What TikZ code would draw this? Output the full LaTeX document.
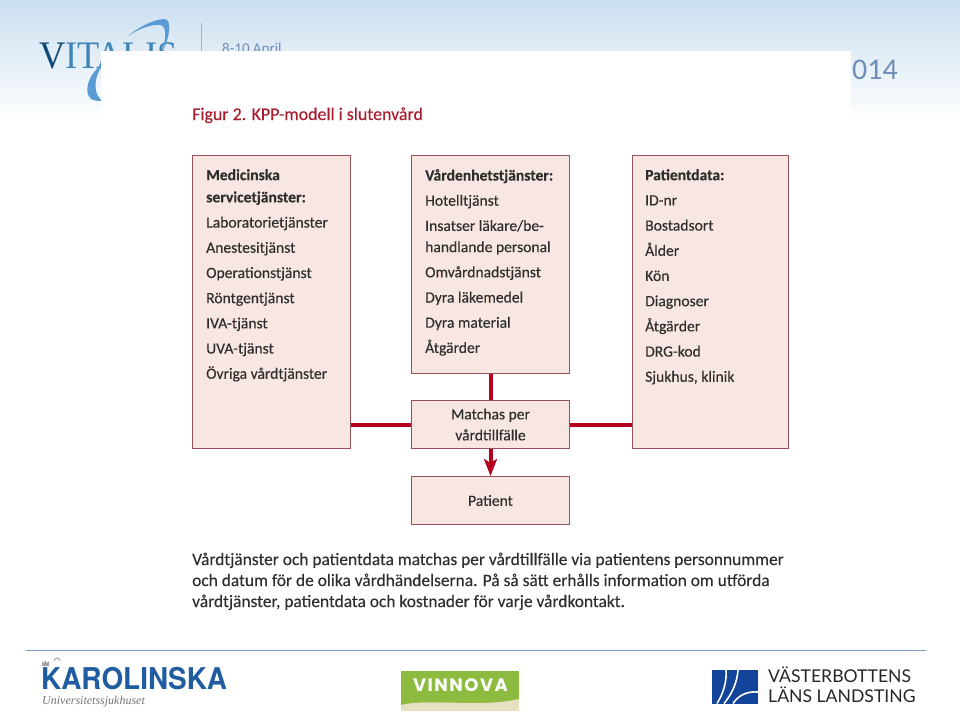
\documentclass[tikz,border=0pt]{standalone}
\usepackage{fontspec}
\setmainfont[FakeBold=0.25]{Carlito}
\newfontfamily\plainfont{Carlito}
\newfontfamily\vitfont[FakeStretch=0.93]{Liberation Serif}
\newfontfamily\serifname{Liberation Serif}
\newfontfamily\karofont[FakeStretch=0.93]{TeX Gyre Heros}
\newfontfamily\vinnfont[LetterSpace=8]{Poppins}
\newfontfamily\vllfont{Lato}
\usetikzlibrary{arrows.meta, positioning}
\usepackage{xcolor}
\definecolor{boxfill}{HTML}{F7E6E1}
\definecolor{boxline}{HTML}{96525A}
\definecolor{kpred}{HTML}{B5001E}
\definecolor{titlered}{HTML}{A81E2F}
\definecolor{bodygrey}{HTML}{2E2E2E}
\definecolor{headblue}{HTML}{CBDFF0}
\definecolor{datablue}{HTML}{6F8FB8}
\definecolor{rulerblue}{HTML}{7BA0C4}
\definecolor{swoosh}{HTML}{5B9BD5}
\definecolor{vitdark}{HTML}{0F4A78}
\definecolor{vitmid}{HTML}{3F86B8}
\definecolor{karoblue}{HTML}{1F5CA0}
\definecolor{vinngreen}{HTML}{8DBB3F}
\definecolor{vinnsand}{HTML}{E6DFC0}
\definecolor{vllblue}{HTML}{12449A}

\tikzset{
	kppbox/.style={draw=boxline, fill=boxfill, line width=1pt, inner sep=0pt},
	listtext/.style={anchor=north west, align=left, inner sep=0pt, text=bodygrey, font=\fontsize{15.6}{25.2}\selectfont},
	midtext/.style={align=center, inner sep=0pt, text=bodygrey, font=\fontsize{15.6}{21}\selectfont},
	kppline/.style={draw=kpred, line width=4pt}
}

\begin{document}
\begin{tikzpicture}[x=1pt, y=-1pt]
	\useasboundingbox (0,0) rectangle (960,712);
	% slide background
	\shade[top color=headblue, bottom color=white] (0,0) rectangle (960,122);

	% vitalis logo
	\node[anchor=base west, inner sep=0pt, text=vitmid, font=\vitfont\fontsize{39}{39}\selectfont] (vitalis) at (39,68) {\textcolor{vitdark}{V}ITALIS};
	\fill[swoosh] (128,36) .. controls (140,26) and (155,19) .. (165,19) .. controls (172,20) and (170,38) .. (162,52) .. controls (166,38) and (167,28) .. (161,25) .. controls (152,24) and (140,28) .. (128,36) -- cycle;
	\fill[swoosh] (103,64) .. controls (90,72) and (83,90) .. (90,98) .. controls (93,101) and (98,101) .. (103,101) .. controls (94,96) and (92,80) .. (103,64) -- cycle;
	\draw[black!30, line width=0.8pt] (201,23) -- (201,52);
	\node[anchor=base west, inner sep=0pt, text=datablue, font=\plainfont\fontsize{15}{15}\selectfont] (datum) at (222,53) {8-10 April};
	\node[anchor=base east, inner sep=0pt, text=datablue, font=\plainfont\fontsize{30}{30}\selectfont] (year) at (898,79) {2014};

	% white sheet with the figure
	\fill[white] (101,51) rectangle (851,130);

	\node[anchor=base west, inner sep=0pt, text=titlered, font=\fontsize{17.9}{18}\selectfont] (titel) at (192,120) {Figur 2. KPP-modell i slutenvård};

	\node[kppbox, anchor=north west, minimum width=158pt, minimum height=293pt] (med) at (192,155) {};
	\node[kppbox, anchor=north west, minimum width=158pt, minimum height=218pt] (vard) at (411,155) {};
	\node[kppbox, anchor=north west, minimum width=156pt, minimum height=293pt] (pat) at (632,155) {};
	\node[kppbox, anchor=north west, minimum width=158pt, minimum height=48pt] (match) at (411,400) {};
	\node[kppbox, anchor=north west, minimum width=158pt, minimum height=48pt] (patient) at (411,476) {};

	\node[listtext] (medtext) at (206,169) {\textbf{Medicinska}\\[-3pt]\textbf{servicetjänster:}\\Laboratorietjänster\\Anestesitjänst\\Operationstjänst\\Röntgentjänst\\IVA-tjänst\\UVA-tjänst\\Övriga vårdtjänster};
	\node[listtext] (vardtext) at (425,169) {\textbf{Vårdenhetstjänster:}\\Hotelltjänst\\Insatser läkare/be-\\[-4pt]handlande personal\\Omvårdnadstjänst\\Dyra läkemedel\\Dyra material\\Åtgärder};
	\node[listtext] (pattext) at (645,169) {\textbf{Patientdata:}\\ID-nr\\Bostadsort\\Ålder\\Kön\\Diagnoser\\Åtgärder\\DRG-kod\\Sjukhus, klinik};
	\node[midtext] (matchtext) at (match.center) {Matchas per\\vårdtillfälle};
	\node[midtext] (patienttext) at (patient.center) {Patient};

	\draw[kppline] (vard) -- (match);
	\draw[kppline] (match.west) -- (match.west -| med.east);
	\draw[kppline] (match.east) -- (match.east -| pat.west);
	\draw[kppline, -{Stealth[length=17pt, width=13pt, inset=4pt]}] (match) -- (patient);

	\node[anchor=north west, align=left, inner sep=0pt, text=bodygrey, font=\fontsize{17.4}{21}\selectfont] (caption) at (192,552.5) {Vårdtjänster och patientdata matchas per vårdtillfälle via patientens personnummer\\och datum för de olika vårdhändelserna. På så sätt erhålls information om utförda\\vårdtjänster, patientdata och kostnader för varje vårdkontakt.};

	% footer
	\draw[rulerblue, line width=1pt] (26,650) -- (926,650);

	\node[anchor=base west, inner sep=0pt, text=karoblue, font=\karofont\bfseries\fontsize{30}{30}\selectfont] (karo) at (41,689) {KAROLINSKA};
	\node[anchor=base west, inner sep=0pt, text=black!55, font=\serifname\itshape\fontsize{12}{12}\selectfont] (karosub) at (42,704) {Universitetssjukhuset};
	\fill[black!35] (42,666) -- (42,661) -- (44,663) -- (45.5,660) -- (47,663) -- (49,661) -- (49,666) -- cycle;
	\draw[black!35, line width=1pt] (54,661) arc[start angle=180, end angle=360, radius=3];

	\fill[vinngreen] (401,671) rectangle (519,711);
	\fill[vinnsand] (401,705) .. controls (430,698) and (480,708) .. (519,699) -- (519,711) -- (401,711) -- cycle;
	\node[inner sep=0pt, text=white, font=\vinnfont\bfseries\fontsize{18}{18}\selectfont] (vinnova) at (460.5,685) {VINNOVA};

	\fill[vllblue] (712,670) rectangle (758,703.5);
	\draw[white, line width=1.6pt] (726,670) .. controls (727,682) and (723,694) .. (717,703.5);
	\draw[white, line width=1.6pt] (738,670) .. controls (737,684) and (731,695) .. (724,703.5);
	\draw[white, line width=1.6pt] (758,692) .. controls (746,691) and (738,696) .. (733,703.5);
	\node[anchor=base west, inner sep=0pt, font=\vllfont\fontsize{17.6}{18}\selectfont, text=black!85] (vll1) at (768,682) {VÄSTERBOTTENS};
	\node[anchor=base west, inner sep=0pt, font=\vllfont\fontsize{17.6}{18}\selectfont, text=black!85] (vll2) at (768,702) {LÄNS LANDSTING};
\end{tikzpicture}
\end{document}
